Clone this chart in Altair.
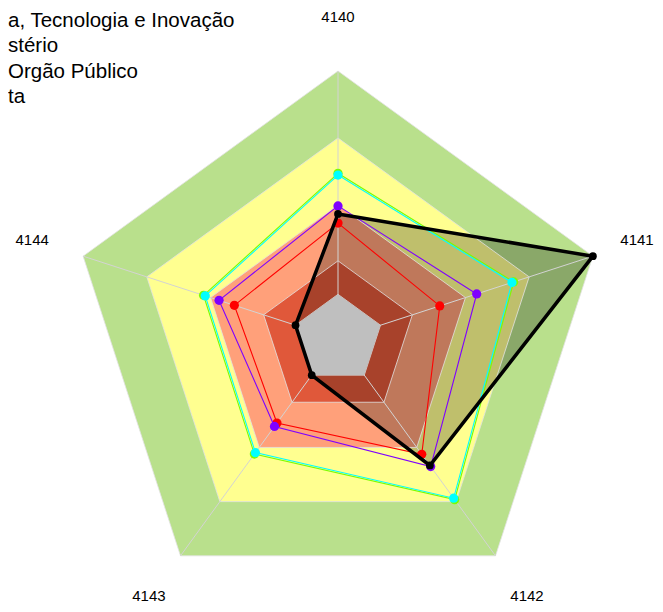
import altair as alt
import pandas as pd

# ---------------- data ----------------
axis_labels = ["4140", "4141", "4142", "4143", "4144"]

band_levels = [1.0, 0.7, 0.4, 0.15]
band_colors = ["#B9E08C", "#FFFF90", "#FFA07A", "#E0583A"]
center_level = 0.0
center_color = "#BFBFBF"
grid_levels = [0.0, 0.15, 0.4, 0.7, 1.0]

series_names = ["Verde", "Ciano", "Vermelho", "Roxo", "Preto"]
series_colors = ["#7CFC00", "#00FFFF", "#FF0000", "#7F00FF", "#000000"]
green_vals = [0.542, 0.627, 0.689, 0.437, 0.433]
cyan_vals = [0.534, 0.619, 0.681, 0.429, 0.425]
red_vals = [0.319, 0.279, 0.438, 0.265, 0.288]
purple_vals = [0.396, 0.453, 0.506, 0.284, 0.360]
black_vals = [0.360, 1.000, 0.500, 0.000, 0.000]
series_values = [green_vals, cyan_vals, red_vals, purple_vals, black_vals]

# legend texts as visible in the reference (cut at the left edge there)
legend_texts = [
    "a, Tecnologia e Inovação",
    "stério",
    "Orgão Público",
    "ta",
]

# ---------------- layout ----------------
R_MIN, R_MAX = -0.2, 1.0
LABEL_R = 1.2
N = len(axis_labels)
W, H = 647, 596
UNIT = 268.0
CX, CY = 330.0, 331.0
x_dom = [-CX / UNIT, (W - CX) / UNIT]
y_dom = [-(H - CY) / UNIT, CY / UNIT]
LABEL_XMAX = (W - 18 - CX) / UNIT
LABEL_YMIN = (CY - (H - 8)) / UNIT

legend_x = 0
legend_y = [18.5, 44, 69.5, 95]

FONT = "Liberation Sans"

X = alt.X("px:Q", scale=alt.Scale(domain=x_dom, nice=False, zero=False), axis=None)
Y = alt.Y("py:Q", scale=alt.Scale(domain=y_dom, nice=False, zero=False), axis=None)
X2 = alt.X2("px2:Q")
Y2 = alt.Y2("py2:Q")


def ring(name, vals):
    rows = []
    for k in range(N + 1):
        i = k % N
        rows.append({"name": name, "idx": i, "ord": k, "v": vals[i]})
    return rows


def polar(ch):
    return (
        ch.transform_calculate(ang=f"PI/2 - datum.idx*2*PI/{N}")
        .transform_calculate(r=f"(datum.v - ({R_MIN}))/({R_MAX} - ({R_MIN}))")
        .transform_calculate(px="datum.r*cos(datum.ang)", py="datum.r*sin(datum.ang)")
    )


layers = []

# background bands (outer first)
for lvl, col in zip(band_levels, band_colors):
    df = pd.DataFrame(ring("band", [lvl] * N))
    layers.append(
        polar(alt.Chart(df))
        .mark_line(fill=col, strokeWidth=0, strokeOpacity=0)
        .encode(x=X, y=Y, order="ord:Q")
    )

# black series fill
df_black = pd.DataFrame(ring("Preto", black_vals))
layers.append(
    polar(alt.Chart(df_black))
    .mark_line(fill="#000000", fillOpacity=0.25, strokeWidth=0, strokeOpacity=0)
    .encode(x=X, y=Y, order="ord:Q")
)

# grid outlines
grid_rows = []
for lvl in grid_levels:
    for row in ring(str(lvl), [lvl] * N):
        grid_rows.append(row)
df_grid = pd.DataFrame(grid_rows)
layers.append(
    polar(alt.Chart(df_grid))
    .mark_line(stroke="#E2E2E2", strokeWidth=0.8)
    .encode(x=X, y=Y, order="ord:Q", detail="name:N")
)

# spokes
df_spk = pd.DataFrame({"idx": list(range(N)), "axis": axis_labels})
layers.append(
    alt.Chart(df_spk)
    .transform_calculate(ang=f"PI/2 - datum.idx*2*PI/{N}")
    .transform_calculate(px="0", py="0", px2="cos(datum.ang)", py2="sin(datum.ang)")
    .mark_rule(color="#D3D3D3", strokeWidth=1)
    .encode(x=X, y=Y, x2=X2, y2=Y2)
)

# grey centre
df_c = pd.DataFrame(ring("centre", [center_level] * N))
layers.append(
    polar(alt.Chart(df_c))
    .mark_line(fill=center_color, strokeWidth=0, strokeOpacity=0)
    .encode(x=X, y=Y, order="ord:Q")
)

# series lines and points
for name, col, vals in zip(series_names, series_colors, series_values):
    df = pd.DataFrame(ring(name, vals))
    is_black = name == "Preto"
    base = polar(alt.Chart(df))
    layers.append(
        base.mark_line(stroke=col, strokeWidth=3.5 if is_black else 1.1)
        .encode(x=X, y=Y, order="ord:Q")
    )
    layers.append(
        base.transform_filter("datum.ord < %d" % N)
        .mark_circle(color=col, opacity=1, size=60 if is_black else 85)
        .encode(x=X, y=Y)
    )

# axis labels
df_lab = pd.DataFrame({"idx": list(range(N)), "axis": axis_labels})
layers.append(
    alt.Chart(df_lab)
    .transform_calculate(ang=f"PI/2 - datum.idx*2*PI/{N}")
    .transform_calculate(
        px=f"min({LABEL_R}*cos(datum.ang), {LABEL_XMAX})",
        py=f"max({LABEL_R}*sin(datum.ang), {LABEL_YMIN})",
    )
    .mark_text(font=FONT, fontSize=15, color="#000000", align="center", baseline="middle")
    .encode(x=X, y=Y, text="axis:N")
)

# legend texts
for txt, ly in zip(legend_texts, legend_y):
    layers.append(
        alt.Chart(pd.DataFrame({"t": [txt]}))
        .mark_text(font=FONT, fontSize=20.5, color="#000000", align="left", baseline="alphabetic")
        .encode(x=alt.value(legend_x), y=alt.value(ly), text="t:N")
    )

chart = (
    alt.layer(*layers)
    .properties(width=W, height=H, autosize=alt.AutoSizeParams(type="none"), padding=0, background="white")
    .configure_view(stroke=None)
)

chart.save("out.html", embed_options={"renderer": "svg", "actions": False})
